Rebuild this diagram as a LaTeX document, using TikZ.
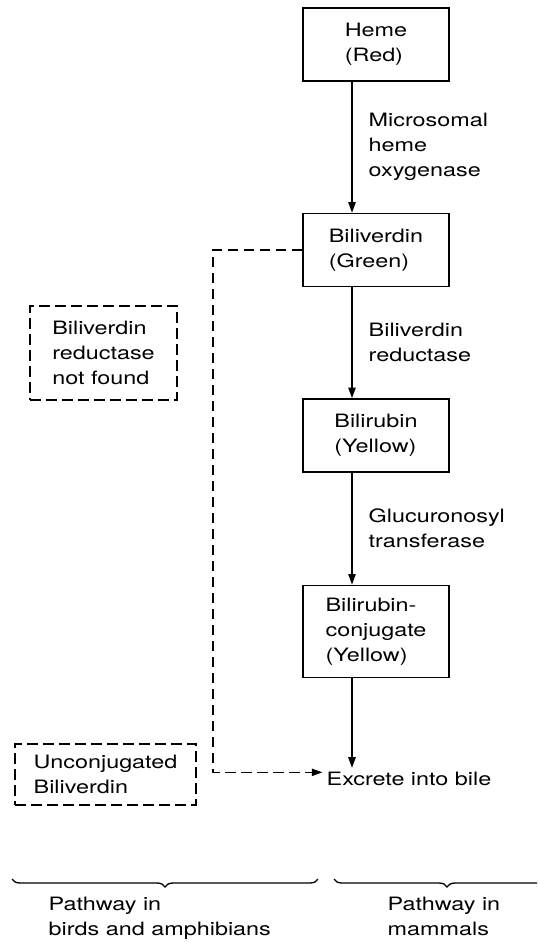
\documentclass[tikz,border=0pt]{standalone}
\usepackage{fontspec}
\setmainfont{TeX Gyre Heros}[FakeStretch=1.27]
\usetikzlibrary{positioning,arrows.meta,decorations.pathreplacing}

\begin{document}
\begin{tikzpicture}[
    x=0.75pt, y=-0.75pt,
    font=\fontsize{13.8}{18.75}\selectfont,
    stage/.style={draw, rectangle, line width=1.1pt, minimum width=109.5pt,
                  minimum height=54.75pt, align=left, inner sep=3pt},
    absent/.style={draw, rectangle, line width=1pt, dash pattern=on 8pt off 4pt,
                   align=left, inner sep=3pt},
    enzyme/.style={align=left, inner sep=2pt},
    ar/.style={-{Triangle[length=8pt,width=5.5pt]}, line width=1.1pt},
    dar/.style={-{Triangle[length=8pt,width=5.5pt]}, line width=1pt,
                dash pattern=on 8pt off 4pt},
    grp/.style={decorate, decoration={brace, mirror, amplitude=6pt}, line width=1pt},
    node distance=3mm,
]
\clip (0,0) rectangle (537,942);
\useasboundingbox (0,0) rectangle (537,942);

% mammalian pathway
\node[stage] (heme) at (376,44.5) {Heme\\(Red)};
\node[stage, below=98.25pt of heme] (bv) {Biliverdin\\(Green)};
\node[stage, below=83.25pt of bv] (br) {Bilirubin\\(Yellow)};
\node[stage, below=84pt of br, minimum height=69pt] (conj) {Bilirubin-\\conjugate\\(Yellow)};
\node[inner sep=3pt] (ex) at (409,779) {Excrete into bile};

\draw[ar] ([xshift=-18pt]heme.south) -- ([xshift=-18pt]bv.north)
    node[enzyme, midway, right=10pt] (e1) {Microsomal\\heme\\oxygenase};
\draw[ar] ([xshift=-18pt]bv.south) -- ([xshift=-18pt]br.north)
    node[enzyme, midway, right=10pt] (e2) {Biliverdin\\reductase};
\draw[ar] ([xshift=-18pt]br.south) -- ([xshift=-18pt]conj.north)
    node[enzyme, midway, right=10pt] (e3) {Glucuronosyl\\transferase};
\draw[ar] ([xshift=-18pt]conj.south) -- ([xshift=-18pt]conj.south |- ex.north);

% birds and amphibians
\draw[dar] (bv.west) -- ++(-67pt,0) |- ([yshift=5pt]ex.west);
\node[absent, minimum width=110.25pt, minimum height=70.5pt] (nored) at (103.5,353) {Biliverdin\\reductase\\not found};
\node[absent, minimum width=135.75pt, minimum height=45.75pt] (unconj) at (105.5,774.5) {Unconjugated\\Biliverdin};

% groups
\draw[grp] (12,879) -- (318,879) coordinate[midway] (gb);
\draw[grp] (334,879) -- (560,879) coordinate[midway] (gm);
\node[align=left, anchor=north west] (lb) at (44,892) {Pathway in\\birds and amphibians};
\node[align=left, anchor=north west] (lm) at (383,892) {Pathway in\\mammals};
\end{tikzpicture}
\end{document}
